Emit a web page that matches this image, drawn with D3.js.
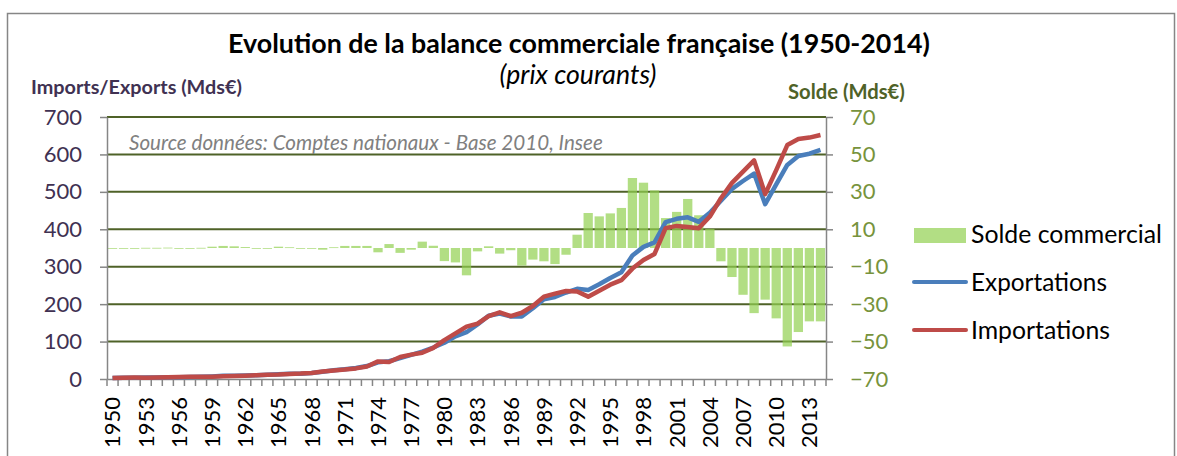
<!DOCTYPE html>
<html>
<head>
<meta charset="utf-8">
<script src="https://cdn.jsdelivr.net/npm/d3@7"></script>
<style>
body { margin: 0; background: white; }
text { font-family: Lato, "Open Sans", sans-serif; }
</style>
</head>
<body>
<script>
// data
var years = d3.range(1950, 2015);
var exportations = [2.4,3.2,3.6,3.7,4.0,4.6,4.9,5.5,6.0,6.9,
    8.4,8.8,9.3,10.1,11.3,12.6,14.0,14.3,16.2,19.4,
    23.1,26.2,29.4,34.6,44.7,47.4,56.0,64.3,73.2,84.1,
    97,114,125,146,169,175,167,167,189,213,
    219,231,241,238,253,270,285,330,353,365,
    419,428,432,420,444,476,508,529,549,467,
    520,572,596,602,612];
var importations = [2.5,3.5,3.8,3.6,3.9,4.4,5.2,5.8,5.9,6.2,
    7.3,7.9,8.8,10.1,11.3,11.9,13.6,14.4,16.2,20.3,
    22.7,25.1,28.3,33.5,47.0,45.3,58.6,65.2,70.0,83.0,
    104,122,140,148,168,178,168,177,195,220,
    228,235,234,220,236,252,264,295,318,334,
    403,409,406,403,434,483,524,554,584,494,
    558,625,641,645,652];
var solde = [-0.2,-0.3,-0.2,0.1,0.1,0.2,-0.3,-0.3,0.1,0.7,
    1.1,0.9,0.5,0,0,0.7,0.4,-0.1,0,-0.9,
    0.4,1.1,1.1,1.1,-2.3,2.1,-2.6,-0.9,3.4,1.2,
    -7.0,-7.7,-14.6,-1.8,0.9,-3.0,-1.2,-9.4,-6.2,-7.1,
    -8.6,-3.6,7.1,18.7,16.9,18.5,21.4,37.4,34.9,30.8,
    16.0,19.3,26.2,17.5,10.2,-7.1,-15.5,-25.0,-34.8,-27.6,
    -37.6,-52.6,-44.9,-39.2,-39.2];
var leftTicks = [0,100,200,300,400,500,600,700];
var rightTicks = [-70,-50,-30,-10,10,30,50,70];
var yearLabels = years.filter(d => (d - 1950) % 3 == 0);

var width = 1177, height = 456;
var margin = { top: 117, right: 351, bottom: 77, left: 107 };

var grey = "#868686";

// fit a text element to a target width
function fit(sel, w) {
    var fs = +sel.attr("font-size");
    var len = sel.node().getComputedTextLength();
    sel.attr("font-size", fs * w / len);
    return sel;
}

var svg = d3.select("body").append("svg")
    .attr("width", width)
    .attr("height", height);

// border
svg.append("rect")
    .attr("x", 7.5).attr("y", 13.5)
    .attr("width", 1167).attr("height", 460)
    .attr("fill", "white")
    .attr("stroke", grey)
    .attr("stroke-width", 1.5);

var x = d3.scaleBand()
    .domain(years)
    .range([margin.left, width - margin.right]);
var y = d3.scaleLinear()
    .domain([0, 700])
    .range([height - margin.bottom, margin.top]);
var y2 = d3.scaleLinear()
    .domain([-70, 70])
    .range([height - margin.bottom, margin.top]);

var bw = x.bandwidth();

// gridlines
svg.append("g")
    .selectAll("line")
    .data(leftTicks.slice(1))
    .join("line")
    .attr("x1", margin.left)
    .attr("x2", width - margin.right)
    .attr("y1", d => y(d))
    .attr("y2", d => y(d))
    .attr("stroke", "#4f6228")
    .attr("stroke-width", 2);

// bars (solde)
svg.append("g")
    .selectAll("rect")
    .data(years)
    .join("rect")
    .attr("x", d => x(d) + bw * 0.08)
    .attr("width", bw * 0.84)
    .attr("y", (d, i) => y2(Math.max(0, solde[i])))
    .attr("height", (d, i) => Math.max(0.8, Math.abs(y2(solde[i]) - y2(0))))
    .attr("fill", "#92d050")
    .attr("fill-opacity", 0.7);

// axes
var yAxis = g => g
    .attr("transform", `translate(${margin.left},0)`)
    .call(d3.axisLeft(y).tickValues(leftTicks).tickSize(7).tickSizeOuter(0).tickPadding(18))
    .call(g => g.selectAll("line, path").attr("stroke", grey).attr("stroke-width", 1.5))
    .call(g => g.selectAll("text").attr("font-size", 22).attr("fill", "#403152").attr("font-family", "Lato, sans-serif"));

var y2Axis = g => g
    .attr("transform", `translate(${width - margin.right},0)`)
    .call(d3.axisRight(y2).tickValues(rightTicks).tickSize(7).tickSizeOuter(0).tickPadding(17))
    .call(g => g.selectAll("line, path").attr("stroke", grey).attr("stroke-width", 1.5))
    .call(g => g.selectAll("text").attr("font-size", 22).attr("fill", "#77933c").attr("font-family", "Lato, sans-serif"));

var xAxis = g => g
    .attr("transform", `translate(0,${height - margin.bottom})`)
    .call(d3.axisBottom(x).tickValues(yearLabels).tickSize(0).tickSizeOuter(0))
    .call(g => g.select(".domain").attr("stroke", grey).attr("stroke-width", 1.5))
    .call(g => g.selectAll("text")
        .attr("transform", "rotate(-90)")
        .attr("x", -18).attr("y", 0).attr("dy", "0.36em")
        .attr("text-anchor", "end")
        .attr("font-size", 22)
        .attr("fill", "black")
        .attr("font-family", "Lato, sans-serif"));

svg.append("g").call(yAxis);
svg.append("g").call(y2Axis);
svg.append("g").call(xAxis);

// minor ticks between years
svg.append("g")
    .selectAll("line")
    .data(years.concat([2015]))
    .join("line")
    .attr("x1", d => d == 2015 ? x(2014) + bw : x(d))
    .attr("x2", d => d == 2015 ? x(2014) + bw : x(d))
    .attr("y1", height - margin.bottom)
    .attr("y2", height - margin.bottom + 7)
    .attr("stroke", grey)
    .attr("stroke-width", 1.5);

// lines
var line = arr => d3.line()
    .x((d, i) => x(d) + bw / 2)
    .y((d, i) => y(arr[i]))(years);

svg.append("path")
    .attr("d", line(exportations))
    .attr("fill", "none")
    .attr("stroke", "#4a7ebb")
    .attr("stroke-width", 4.5)
    .attr("stroke-linejoin", "round");
svg.append("path")
    .attr("d", line(importations))
    .attr("fill", "none")
    .attr("stroke", "#be4b48")
    .attr("stroke-width", 4.5)
    .attr("stroke-linejoin", "round");

// TITLES
svg.append("text")
    .attr("x", 579).attr("y", 53)
    .attr("text-anchor", "middle")
    .attr("font-weight", "bold")
    .attr("font-size", 22)
    .attr("fill", "black")
    .text("Evolution de la balance commerciale française (1950-2014)")
    .call(s => fit(s, 702));

svg.append("text")
    .attr("x", 578).attr("y", 84)
    .attr("text-anchor", "middle")
    .attr("font-style", "italic")
    .attr("font-size", 20)
    .attr("fill", "black")
    .text("(prix courants)")
    .call(s => fit(s, 157));

svg.append("text")
    .attr("x", 31).attr("y", 94)
    .attr("font-weight", "bold")
    .attr("font-size", 16)
    .attr("fill", "#403152")
    .text("Imports/Exports (Mds€)")
    .call(s => fit(s, 211));

svg.append("text")
    .attr("x", 788).attr("y", 99)
    .attr("font-weight", "bold")
    .attr("font-size", 16)
    .attr("fill", "#4f6228")
    .text("Solde (Mds€)")
    .call(s => fit(s, 117));

svg.append("text")
    .attr("x", 129).attr("y", 150)
    .attr("font-style", "italic")
    .attr("font-size", 17)
    .attr("fill", "#808080")
    .text("Source données: Comptes nationaux - Base 2010, Insee")
    .call(s => fit(s, 474));

// LEGEND
var legend = svg.append("g");
legend.append("rect")
    .attr("x", 914).attr("y", 228)
    .attr("width", 52).attr("height", 15)
    .attr("fill", "#92d050").attr("fill-opacity", 0.7);
legend.append("line")
    .attr("x1", 914).attr("x2", 966)
    .attr("y1", 282).attr("y2", 282)
    .attr("stroke", "#4a7ebb").attr("stroke-width", 4).attr("stroke-linecap", "round");
legend.append("line")
    .attr("x1", 914).attr("x2", 966)
    .attr("y1", 330).attr("y2", 330)
    .attr("stroke", "#be4b48").attr("stroke-width", 4).attr("stroke-linecap", "round");

var legendItems = [["Solde commercial", 243, 191], ["Exportations", 291, 136], ["Importations", 339, 139]];
legendItems.forEach(function(d) {
    legend.append("text")
        .attr("x", 971).attr("y", d[1])
        .attr("font-size", 22)
        .attr("fill", "black")
        .text(d[0])
        .call(s => fit(s, d[2]));
});
</script>
</body>
</html>
